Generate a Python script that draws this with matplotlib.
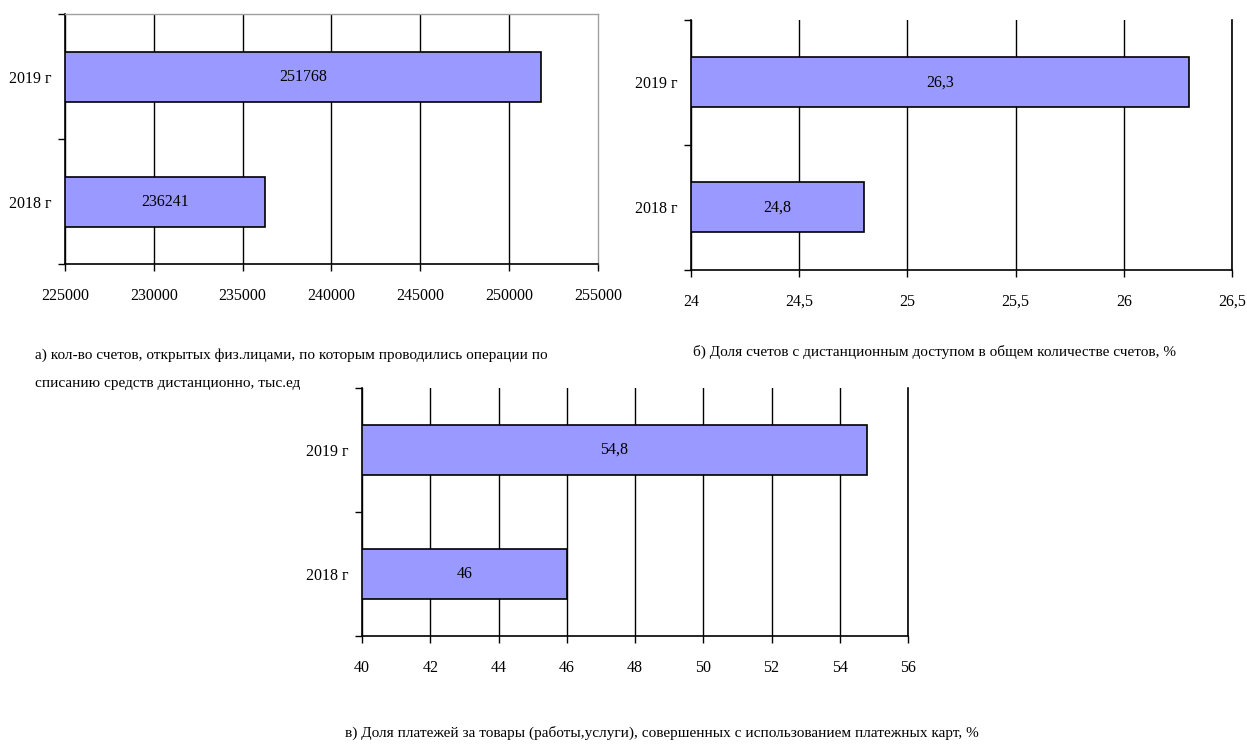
import matplotlib.pyplot as plt

plt.rcParams['font.family'] = ['Liberation Serif', 'DejaVu Serif']

years = ['2018 г', '2019 г']
accounts = [236241, 251768]          # тыс. ед
remote_share = [24.8, 26.3]          # %
card_share = [46, 54.8]              # %

captions = [
    'а) кол-во счетов, открытых физ.лицами, по которым проводились операции по\nсписанию средств дистанционно, тыс.ед',
    'б) Доля счетов с дистанционным доступом в общем количестве счетов, %',
    'в) Доля платежей за товары (работы,услуги), совершенных с использованием платежных карт, %',
]
xticks_a = [225000, 230000, 235000, 240000, 245000, 250000, 255000]
xticks_b = [24, 24.5, 25, 25.5, 26, 26.5]
xticks_c = [40, 42, 44, 46, 48, 50, 52, 54, 56]


def fmt_num(v):
    return ('%g' % v).replace('.', ',')


fig = plt.figure(figsize=(12.47, 7.45), dpi=100)
ax_a = fig.add_axes([0.0521, 0.6456, 0.4274, 0.3356])
ax_b = fig.add_axes([0.5541, 0.6376, 0.4338, 0.3356])
ax_c = fig.add_axes([0.2903, 0.1463, 0.4379, 0.3329])

# bars start at the axis minimum (as in Excel)
for ax, vals, xt in [(ax_a, accounts, xticks_a), (ax_b, remote_share, xticks_b),
                     (ax_c, card_share, xticks_c)]:
    bars = ax.barh([0, 1], [v - xt[0] for v in vals], height=0.4, left=xt[0],
                   color='#9999FF', edgecolor='black', linewidth=1.2, zorder=3)
    ax.set_xlim(xt[0], xt[-1])
    ax.set_ylim(-0.5, 1.5)
    ax.set_xticks(xt)
    ax.set_xticklabels([fmt_num(v) for v in xt], fontsize=11.5)
    ax.set_yticks([0, 1])
    ax.set_yticklabels(years, fontsize=11.5)
    ax.tick_params(axis='y', length=0, pad=10)
    ax.set_yticks([-0.5, 0.5, 1.5], minor=True)
    ax.tick_params(axis='y', which='minor', length=5, width=1)
    ax.tick_params(axis='x', length=5, width=1, pad=12)
    ax.grid(axis='x', color='black', linewidth=1, zorder=0)
    ax.spines['top'].set_visible(False)
    ax.spines['right'].set_linewidth(1.2)
    ax.spines['left'].set_linewidth(1.2)
    ax.spines['bottom'].set_linewidth(1.2)
    ax.bar_label(bars, labels=[fmt_num(v) for v in vals], label_type='center',
                 fontsize=11.5)

# chart a has a light frame at top and right
ax_a.spines['top'].set_visible(True)
ax_a.spines['top'].set_color('#a0a0a0')
ax_a.spines['top'].set_linewidth(1)
ax_a.spines['right'].set_color('#a0a0a0')
ax_a.spines['right'].set_linewidth(1)
ax_a.xaxis.get_gridlines()[-1].set_visible(False)

fig.text(35 / 1247, 1 - 348 / 745, captions[0], fontsize=11, va='top',
         ha='left', linespacing=2.5)
fig.text(693 / 1247, 1 - 352 / 745, captions[1], fontsize=11, va='center',
         ha='left')
fig.text(662 / 1247, 1 - 733 / 745, captions[2], fontsize=11, va='center',
         ha='center')

fig.savefig('out.png', dpi=100)
